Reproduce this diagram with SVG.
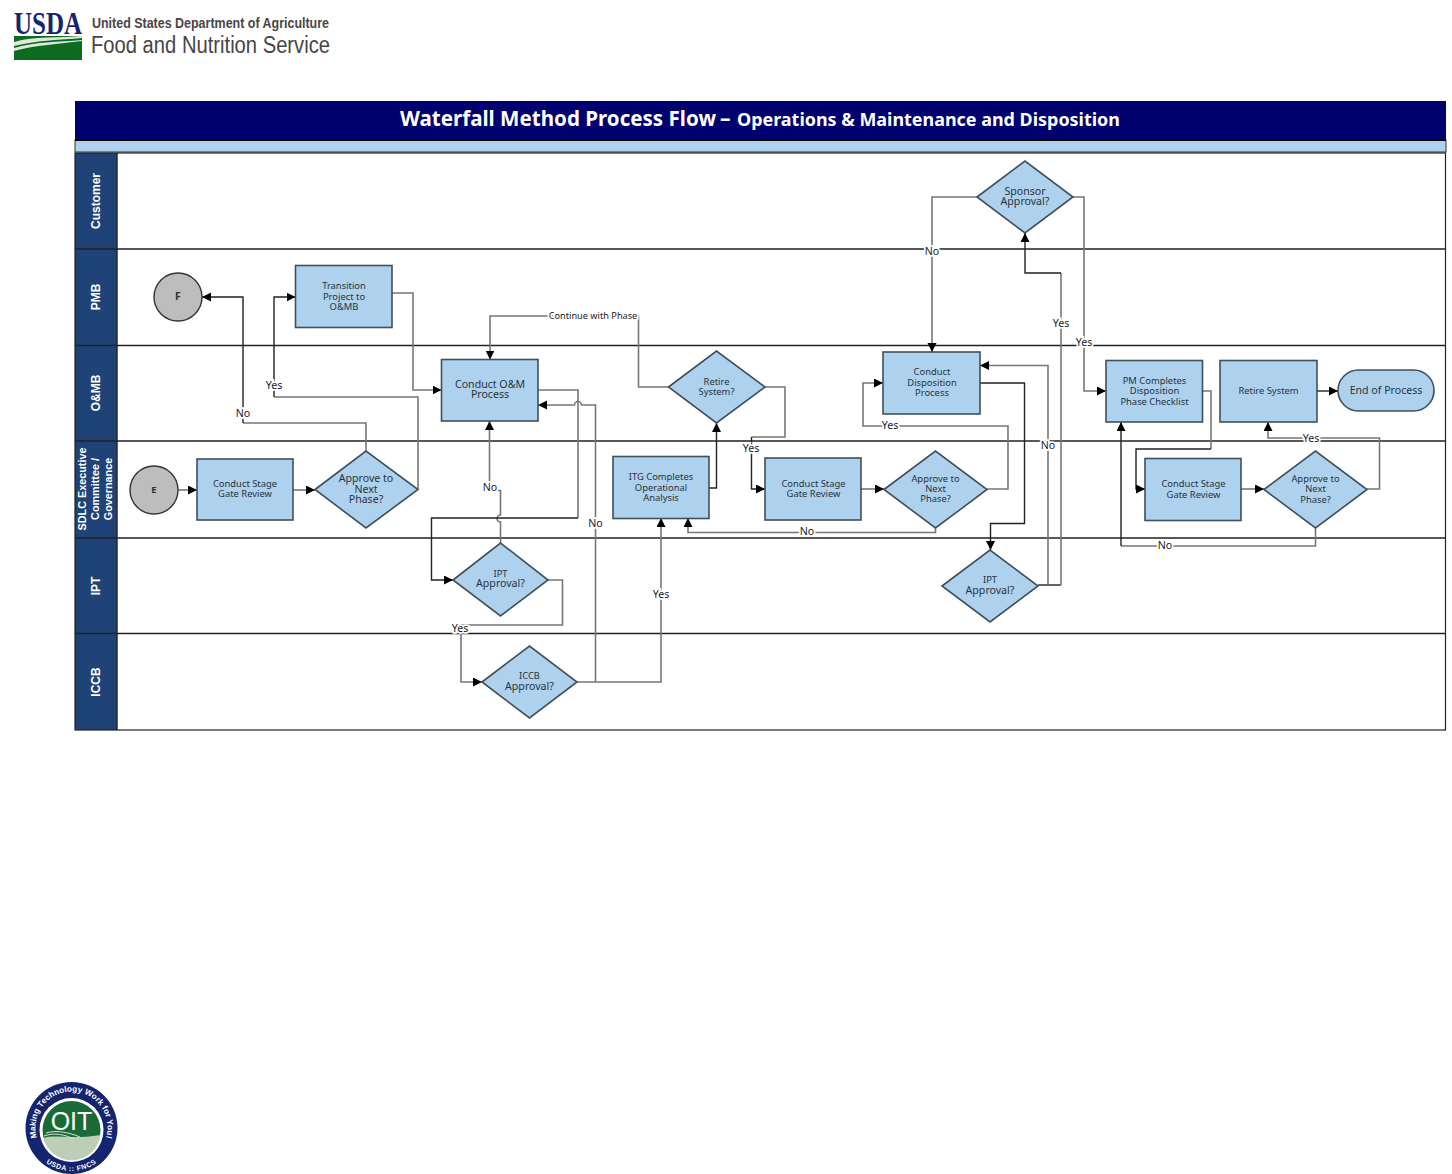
<svg xmlns="http://www.w3.org/2000/svg" width="1452" height="1174" viewBox="0 0 1452 1174">
<style>
.bg{fill:#fff}
.lane{fill:#1f4377}
.line{stroke:#222;stroke-width:1.4;fill:none}
.n{fill:#aed2ee;stroke:#3f4f5c;stroke-width:1.6}
.o{fill:#bdbdbd;stroke:#333;stroke-width:1.4}
text{font-family:"Noto Sans","Open Sans","DejaVu Sans",sans-serif}
.t{font-size:9.4px;fill:#26323c;text-anchor:middle}
.b{font-size:10.6px;fill:#26323c;text-anchor:middle}
.l{font-size:10.6px;fill:#1a1a2a;text-anchor:middle;stroke:#fff;stroke-width:3.5px;paint-order:stroke}
.ll{font-family:"Liberation Sans",Arial,sans-serif;font-weight:bold;font-size:12px;fill:#fff;text-anchor:middle}
.ls{font-size:10.8px}
.c{fill:none;stroke:#777;stroke-width:1.6;marker-end:url(#a)}
.k{fill:none;stroke:#222;stroke-width:1.4;marker-end:url(#a)}
.p{fill:none;stroke:#777;stroke-width:1.6}
.q{fill:none;stroke:#222;stroke-width:1.4}
</style>
<defs>
<marker id="a" markerUnits="userSpaceOnUse" markerWidth="10" markerHeight="10" refX="9" refY="4.5" orient="auto"><path d="M0 0L9 4.5L0 9z" fill="#000"/></marker>
<path id="oitTop" d="M38.500 1142A36 36 0 1 1 104.500 1142"/>
<path id="oitBot" d="M41.700 1159A43 43 0 0 0 101.300 1159"/>
</defs>
<rect class="bg" width="1452" height="1174"/>

<g id="usda-logo">
<text x="14" y="34" font-size="31" font-weight="bold" textLength="68" lengthAdjust="spacingAndGlyphs" style="font-family:'Liberation Serif',serif;fill:#14246e">USDA</text>
<rect x="14" y="36" width="68" height="24" fill="#0b6b1e"/>
<path d="M14 42C34 36 60 38 82 36L82 38C60 40 40 40 14 46zM14 48C34 42 58 42 82 40L82 41C58 44 36 45 14 51z" fill="#dfe8dc"/>
<text x="92" y="28" font-size="14" font-weight="bold" textLength="237" lengthAdjust="spacingAndGlyphs" style="font-family:'Liberation Sans',sans-serif;fill:#4a4545">United States Department of Agriculture</text>
<text x="91" y="53" font-size="23.5" textLength="239" lengthAdjust="spacingAndGlyphs" style="font-family:'Liberation Sans',sans-serif;fill:#4a4545">Food and Nutrition Service</text>
</g>

<g id="title">
<rect x="75" y="101" width="1371" height="39" fill="#00006e"/>
<rect x="75" y="140" width="1371" height="12" fill="#aed2ee" stroke="#333" stroke-width="1"/>
<path d="M75 140H1446" stroke="#000" stroke-width="2"/>
<text x="400" y="126" font-size="21" font-weight="bold" textLength="316" lengthAdjust="spacingAndGlyphs" style="fill:#fff">Waterfall Method Process Flow</text>
<text x="720" y="126" font-size="21" font-weight="bold" style="fill:#fff">–</text>
<text x="737" y="125.500" font-size="17.500" font-weight="bold" textLength="383" lengthAdjust="spacingAndGlyphs" style="fill:#fff">Operations &amp; Maintenance and Disposition</text>
</g>

<g id="lanes">
<rect x="75" y="153" width="42" height="577" class="lane"/>
<rect x="75" y="153" width="1370.500" height="577" fill="none" stroke="#222" stroke-width="1.2"/>
<path class="line" d="M75 249H1446M75 345.500H1446M75 441H1446M75 538H1446M75 633.500H1446M117 153V730"/>
<text class="ll" transform="translate(100,201) rotate(-90)">Customer</text>
<text class="ll" transform="translate(100,297) rotate(-90)">PMB</text>
<text class="ll" transform="translate(100,393) rotate(-90)">O&amp;MB</text>
<text class="ll ls" transform="translate(86,489) rotate(-90)">SDLC Executive</text>
<text class="ll ls" transform="translate(99,489) rotate(-90)">Committee /</text>
<text class="ll ls" transform="translate(112,489) rotate(-90)">Governance</text>
<text class="ll" transform="translate(100,586) rotate(-90)">IPT</text>
<text class="ll" transform="translate(100,682) rotate(-90)">ICCB</text>
</g>

<g id="connectors">
<path class="c" d="M178 490H197"/>
<path class="c" d="M293 490H315"/>
<path class="p" d="M366 451V423H243"/>
<path class="k" d="M243 423V297H202"/>
<path class="p" d="M418 489V397H274"/>
<path class="k" d="M274 397V297H295.500"/>
<path class="c" d="M392 293H413V390H441.500"/>
<path class="c" d="M500.500 543V522A3.500 3.500 0 0 1 500.500 515V490.500H489.500V421"/>
<path class="p" d="M538 390H578V518"/>
<path class="k" d="M578 518H431.500V580H453"/>
<path class="c" d="M548 580H562.500V625H461V682H482"/>
<path class="c" d="M577 682H661V518"/>
<path class="c" d="M595.500 682V405H581.500A3.500 3.500 0 0 0 574.500 405H538"/>
<path class="k" d="M709 488H716.500V423"/>
<path class="c" d="M668.500 387H638.500V316H490V359.500"/>
<path class="p" d="M765 387H785V437H751.500"/>
<path class="k" d="M751.500 437V489H765"/>
<path class="c" d="M861 489H884"/>
<path class="c" d="M935.500 528V532.500H688V518"/>
<path class="c" d="M987 489H1008V426H863V383H883"/>
<path class="k" d="M980 383H1024.500V523.500H990.500V550"/>
<path class="q" d="M1038 585H1061"/>
<path class="p" d="M1061 585V273"/>
<path class="k" d="M1061 273H1025V233"/>
<path class="c" d="M1048 585V365.500H980"/>
<path class="c" d="M977 197H932V352"/>
<path class="c" d="M1073 197H1084V391H1106"/>
<path class="p" d="M1202.500 391H1211V449"/>
<path class="k" d="M1211 449H1136V489H1145"/>
<path class="c" d="M1241 489H1264"/>
<path class="c" d="M1367 489H1379.500V438H1268V422"/>
<path class="p" d="M1315.500 528V546H1121"/>
<path class="k" d="M1121 546V422"/>
<path class="k" d="M1317 391H1338"/>
<text class="l" x="243" y="417">No</text>
<text class="l" x="274" y="389">Yes</text>
<text class="l" x="490" y="491">No</text>
<text class="l" x="593" y="319" style="font-size:9.200px">Continue with Phase</text>
<text class="l" x="460" y="632">Yes</text>
<text class="l" x="595.500" y="527">No</text>
<text class="l" x="661" y="598">Yes</text>
<text class="l" x="751" y="452">Yes</text>
<text class="l" x="807" y="535">No</text>
<text class="l" x="890" y="429">Yes</text>
<text class="l" x="932" y="255">No</text>
<text class="l" x="1048" y="449">No</text>
<text class="l" x="1061" y="327">Yes</text>
<text class="l" x="1084" y="346">Yes</text>
<text class="l" x="1165" y="549">No</text>
<text class="l" x="1311" y="442">Yes</text>
</g>

<g id="node-f"><circle class="o" cx="178" cy="297" r="24"/><text class="t" x="178" y="299.500" style="font-size:10.500px;font-weight:bold">F</text></g>
<g id="node-e"><circle class="o" cx="154" cy="490" r="24"/><text class="t" x="154" y="493" style="font-weight:bold">E</text></g>
<g id="node-transition"><rect class="n" x="295.500" y="265.500" width="96.500" height="62"/><text class="t" x="344" y="289">Transition</text><text class="t" x="344" y="300">Project to</text><text class="t" x="344" y="310">O&amp;MB</text></g>
<g id="node-stage1"><rect class="n" x="197" y="459" width="96" height="61"/><text class="t" x="245" y="487">Conduct Stage</text><text class="t" x="245" y="497">Gate Review</text></g>
<g id="node-approve1"><path class="n" d="M315 489.500L366 451L418 489.500L366 528z"/><text class="b" x="366" y="482">Approve to</text><text class="b" x="366" y="493">Next</text><text class="b" x="366" y="503">Phase?</text></g>
<g id="node-om"><rect class="n" x="441.500" y="359.500" width="96.500" height="61.500"/><text class="b" x="490" y="388">Conduct O&amp;M</text><text class="b" x="490" y="398">Process</text></g>
<g id="node-ipt1"><path class="n" d="M453 580L500.500 543L548 580L500.500 616z"/><text class="t" x="500.500" y="577">IPT</text><text class="b" x="500.500" y="587">Approval?</text></g>
<g id="node-iccb"><path class="n" d="M482 682L529.500 646L577 682L529.500 718z"/><text class="t" x="529.500" y="679">ICCB</text><text class="b" x="529.500" y="690">Approval?</text></g>
<g id="node-itg"><rect class="n" x="613" y="456.500" width="96" height="62"/><text class="t" x="661" y="480">ITG Completes</text><text class="t" x="661" y="491">Operational</text><text class="t" x="661" y="501">Analysis</text></g>
<g id="node-retire-q"><path class="n" d="M668.500 387L716.500 351L765 387L716.500 423z"/><text class="t" x="716.500" y="384.500">Retire</text><text class="t" x="716.500" y="395">System?</text></g>
<g id="node-stage2"><rect class="n" x="765" y="458" width="96" height="62"/><text class="t" x="813.500" y="487">Conduct Stage</text><text class="t" x="813.500" y="497">Gate Review</text></g>
<g id="node-approve2"><path class="n" d="M884 489.500L935.500 451L987 489.500L935.500 528z"/><text class="t" x="935.500" y="481.500">Approve to</text><text class="t" x="935.500" y="491.500">Next</text><text class="t" x="935.500" y="502">Phase?</text></g>
<g id="node-disposition"><rect class="n" x="883" y="352" width="97" height="62"/><text class="t" x="932" y="375">Conduct</text><text class="t" x="932" y="386">Disposition</text><text class="t" x="932" y="396">Process</text></g>
<g id="node-sponsor"><path class="n" d="M977 197L1025 161L1073 197L1025 233z"/><text class="b" x="1025" y="195">Sponsor</text><text class="b" x="1025" y="205">Approval?</text></g>
<g id="node-ipt2"><path class="n" d="M942 586L990 550L1038 586L990 622z"/><text class="t" x="990" y="583">IPT</text><text class="b" x="990" y="594">Approval?</text></g>
<g id="node-pm"><rect class="n" x="1106" y="360.500" width="96.500" height="61.500"/><text class="t" x="1154.500" y="383.500">PM Completes</text><text class="t" x="1154.500" y="394">Disposition</text><text class="t" x="1154.500" y="404.500">Phase Checklist</text></g>
<g id="node-retire"><rect class="n" x="1220" y="360.500" width="97" height="61.500"/><text class="t" x="1268.500" y="394">Retire System</text></g>
<g id="node-end"><rect class="n" x="1338" y="370" width="96" height="41" rx="20.500"/><text class="b" x="1386" y="394">End of Process</text></g>
<g id="node-stage3"><rect class="n" x="1145" y="458.500" width="96" height="62"/><text class="t" x="1193.500" y="487">Conduct Stage</text><text class="t" x="1193.500" y="497.500">Gate Review</text></g>
<g id="node-approve3"><path class="n" d="M1264 489.500L1315.500 451L1367 489.500L1315.500 528z"/><text class="t" x="1315.500" y="481.500">Approve to</text><text class="t" x="1315.500" y="492">Next</text><text class="t" x="1315.500" y="503">Phase?</text></g>

<g id="oit-logo">
<circle cx="71.500" cy="1128" r="46" fill="#14246e"/>
<circle cx="71.500" cy="1130" r="32" fill="#fff"/>
<circle cx="71.500" cy="1130" r="29" fill="#1a6a38"/>
<path d="M43.500 1138C55 1134 70 1140 100.500 1135A29 29 0 0 1 43.500 1138z" fill="#bccdb8"/>
<path d="M44 1136C54 1132 66 1135 74 1139M46 1133C56 1130 68 1132 80 1137" stroke="#d8e4d4" stroke-width="1" fill="none"/>
<text x="71.500" y="1130" font-size="25" text-anchor="middle" style="font-family:'Liberation Sans',sans-serif;fill:#fff">OIT</text>
<text font-size="8.300" font-weight="bold" style="font-family:'Liberation Sans',sans-serif;fill:#fff"><textPath href="#oitTop" startOffset="50%" text-anchor="middle">Making Technology Work for You!</textPath></text>
<text font-size="7" font-weight="bold" letter-spacing="0.6" style="font-family:'Liberation Sans',sans-serif;fill:#fff"><textPath href="#oitBot" startOffset="50%" text-anchor="middle">USDA :: FNCS</textPath></text>
</g>
</svg>
